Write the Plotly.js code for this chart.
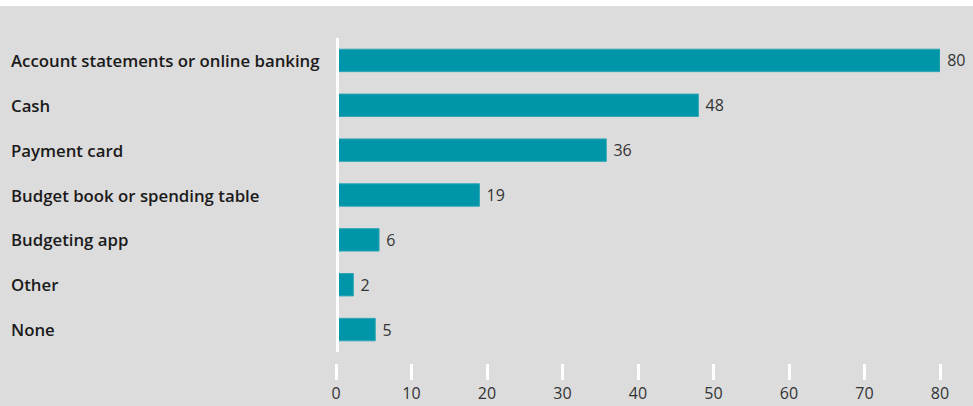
<!DOCTYPE html>
<html><head><meta charset="utf-8">
<script src="https://cdn.plot.ly/plotly-3.0.1.min.js"></script>
<style>html,body{margin:0;padding:0;background:#fff;}#chart{position:absolute;left:0;top:6px;width:973px;height:400px;}</style>
</head><body><div id="chart"></div>
<script>
const categories = ["Account statements or online banking","Cash","Payment card","Budget book or spending table","Budgeting app","Other","None"];
const values = [80.0, 48.0, 35.8, 19.0, 5.7, 2.3, 5.2];
const labels = ["80", "48", "36", "19", "6", "2", "5"];
const tickValues = [0,10,20,30,40,50,60,70,80];

const W = 973, H = 400, L = 335.7, R = 33, T = 32, B = 43;
const plotW = W - L - R;
const plotH = H - T - B;
const yDomStart = 11 / plotH;

const trace = {
  type: 'bar', orientation: 'h',
  x: values, y: categories,
  marker: {color: '#0095a8', line: {color: '#2fa6b6', width: 1}},
  text: labels.map(v => ' ' + v), textposition: 'outside', cliponaxis: false,
  textfont: {family: 'Open Sans', size: 16, color: '#333'},
  hoverinfo: 'none'
};

const annotations = categories.map(c => ({
  xref: 'paper', yref: 'y', x: (9 - L) / plotW, y: c, xanchor: 'left', yanchor: 'middle',
  text: c, showarrow: false,
  font: {family: 'Open Sans', size: 16.8, weight: 600, color: '#1a1a1a'}
}));

const layout = {
  width: W, height: H,
  margin: {l: L, r: R, t: T, b: B, pad: 0},
  paper_bgcolor: '#dcdcdc', plot_bgcolor: '#dcdcdc',
  bargap: 0.5, showlegend: false,
  xaxis: {range: [0, 80], anchor: 'free', position: 0, tickvals: tickValues,
    ticks: 'outside', ticklen: 16, tickwidth: 3, tickcolor: '#ffffff',
    showgrid: false, zeroline: false, showline: false,
    tickfont: {family: 'Open Sans', size: 16, color: '#333'}},
  yaxis: {type: 'category', autorange: 'reversed', domain: [yDomStart, 1],
    showticklabels: false, ticks: '', showgrid: false, zeroline: false, showline: false},
  annotations: annotations,
  shapes: [{type: 'line', layer: 'above', xref: 'x', yref: 'paper', x0: 0, x1: 0, y0: yDomStart, y1: 1,
    line: {color: '#ffffff', width: 6}}]
};
Plotly.newPlot('chart', [trace], layout, {displayModeBar: false, staticPlot: true});
</script></body></html>
